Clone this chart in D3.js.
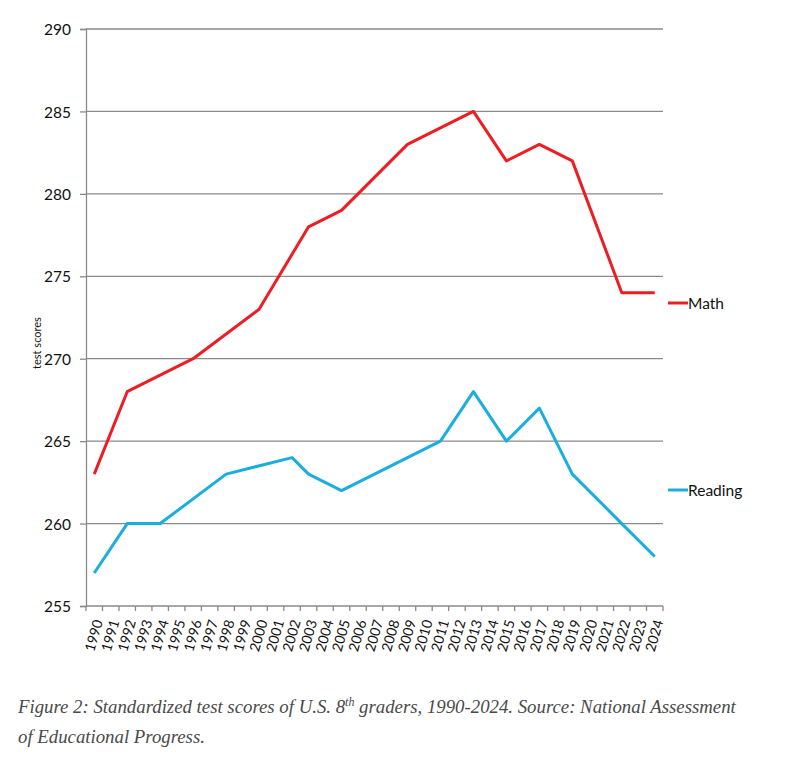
<!DOCTYPE html>
<html lang="en">
<head>
<meta charset="UTF-8">
<title>Standardized test scores of U.S. 8th graders</title>
<script src="https://d3js.org/d3.v7.min.js"></script>
<style>
  body { margin: 0; background: #fff; }
  .tick text { font-family: Lato, "Open Sans", sans-serif; fill: #111; }
  .caption { font-family: "Liberation Serif", serif; font-style: italic; fill: #4a4a4a; font-size: 18.8px; }
</style>
</head>
<body>
<svg width="805" height="758"></svg>
<script>
const years = d3.range(1990, 2025).map(String);
// NAEP scores; null = no assessment that year (line is drawn straight across)
const math = [263, null, 268, null, null, null, 270, null, null, null, 273, null, null, 278, null, 279, null, 281, null, 283, null, 284, null, 285, null, 282, null, 283, null, 282, null, null, 274, null, 274];
const reading = [257, null, 260, null, 260, null, null, null, 263, null, null, null, 264, 263, null, 262, null, 263, null, 264, null, 265, null, 268, null, 265, null, 267, null, 263, null, null, 260, null, 258];
const yTicks = [255, 260, 265, 270, 275, 280, 285, 290];

const svg = d3.select("svg");
const plotLeft = 86, plotRight = 663, plotTop = 29, plotBottom = 606;

const x = d3.scaleBand().domain(years).range([plotLeft, plotRight]);
const y = d3.scaleLinear().domain([255, 290]).range([plotBottom, plotTop]);
const gridColor = "#8a8a8a";

// gridlines
svg.append("g")
  .selectAll("line")
  .data(yTicks.filter(d => d > 255))
  .enter().append("line")
  .attr("x1", plotLeft).attr("x2", plotRight)
  .attr("y1", d => y(d)).attr("y2", d => y(d))
  .attr("stroke", gridColor).attr("stroke-width", 1.3);

// y axis
const yAxis = svg.append("g")
  .attr("transform", `translate(${plotLeft},0)`)
  .call(d3.axisLeft(y).tickValues(yTicks).tickSize(6).tickPadding(9));
yAxis.select(".domain").attr("stroke", gridColor).attr("stroke-width", 1.3);
yAxis.selectAll(".tick line").attr("stroke", gridColor).attr("stroke-width", 1.3);
yAxis.selectAll(".tick text").style("font-size", "15.5px").attr("dy", "0.36em");

// x axis line + boundary ticks
svg.append("line")
  .attr("x1", plotLeft).attr("x2", plotRight)
  .attr("y1", plotBottom).attr("y2", plotBottom)
  .attr("stroke", gridColor).attr("stroke-width", 1.3);
svg.append("g")
  .selectAll("line")
  .data(years.map(d => x(d)).concat([x(years[years.length - 1]) + x.bandwidth()]))
  .enter().append("line")
  .attr("x1", d => d).attr("x2", d => d)
  .attr("y1", plotBottom).attr("y2", plotBottom + 5)
  .attr("stroke", gridColor).attr("stroke-width", 1.3);

// x labels
svg.append("g")
  .selectAll("text")
  .data(years)
  .enter().append("text")
  .attr("transform", d => `translate(${x(d) + x.bandwidth() / 2 + 4},${plotBottom + 14}) rotate(-74)`)
  .attr("text-anchor", "end")
  .attr("dy", "0.35em")
  .style("font-family", "Lato, 'Open Sans', sans-serif")
  .style("font-size", "14px")
  .attr("fill", "#111")
  .text(d => d);

// y title
svg.append("text")
  .attr("transform", `translate(41,343) rotate(-90)`)
  .attr("text-anchor", "middle")
  .style("font-family", "Lato, sans-serif")
  .style("font-size", "11px")
  .attr("fill", "#111")
  .text("test scores");

// lines
const series = [
  { name: "Math", values: math, color: "#ee1d23", legendY: 303 },
  { name: "Reading", values: reading, color: "#1aaedf", legendY: 490 }
];
const line = d3.line()
  .x(d => x(d.year) + x.bandwidth() / 2)
  .y(d => y(d.value));

series.forEach(s => {
  const pts = years.map((yr, i) => ({ year: yr, value: s.values[i] })).filter(d => d.value != null);
  svg.append("path")
    .datum(pts)
    .attr("d", line)
    .attr("fill", "none")
    .attr("stroke", s.color)
    .attr("stroke-width", 3)
    .attr("stroke-linejoin", "round");

  svg.append("line")
    .attr("x1", 668).attr("x2", 688)
    .attr("y1", s.legendY).attr("y2", s.legendY)
    .attr("stroke", s.color).attr("stroke-width", 3);
  svg.append("text")
    .attr("x", 688).attr("y", s.legendY)
    .attr("dy", "0.36em")
    .style("font-family", "Lato, sans-serif")
    .style("font-size", "15.5px")
    .attr("fill", "#111")
    .text(s.name);
});

// caption
const cap = svg.append("text").attr("class", "caption").attr("x", 18).attr("y", 713);
cap.append("tspan").text("Figure 2: Standardized test scores of U.S. 8");
cap.append("tspan").attr("dy", -7).style("font-size", "12px").text("th");
cap.append("tspan").attr("dy", 7).text(" graders, 1990-2024. Source: National Assessment");
svg.append("text").attr("class", "caption").attr("x", 18).attr("y", 743)
  .text("of Educational Progress.");
</script>
</body>
</html>
